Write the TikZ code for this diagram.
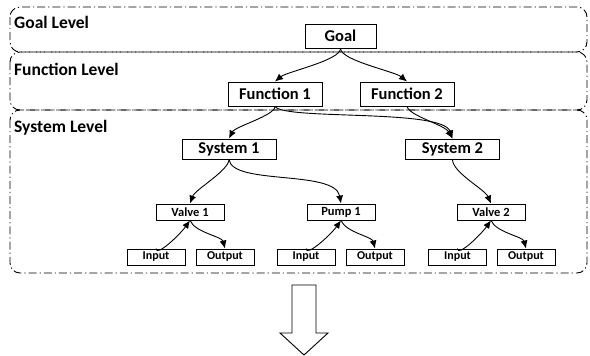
\documentclass[tikz,border=0pt]{standalone}
\usepackage{fontspec}
\setmainfont{Carlito}
\usetikzlibrary{arrows.meta}
\tikzset{
  levelbox/.style={draw, line width=0.9pt, rounded corners=10pt,
    dash pattern=on 8pt off 3pt on 1.2pt off 3pt},
  levellabel/.style={anchor=west, inner sep=0pt, font=\bfseries\fontsize{17.5}{20}\selectfont},
  bigbox/.style={draw, line width=0.9pt, inner sep=0pt, minimum height=24pt,
    font=\bfseries\fontsize{16.5}{19}\selectfont},
  sysbox/.style={draw, line width=0.9pt, inner sep=0pt, minimum width=94pt, minimum height=20pt,
    font=\bfseries\fontsize{16.5}{19}\selectfont},
  compbox/.style={draw, line width=0.9pt, inner sep=0pt, minimum width=68pt, minimum height=16pt,
    font=\bfseries\fontsize{12.5}{14}\selectfont},
  portbox/.style={draw, line width=0.9pt, inner sep=0pt, minimum width=58pt, minimum height=16pt,
    font=\bfseries\fontsize{12}{14}\selectfont},
  link/.style={line width=0.9pt, -{Latex[length=8pt,width=7pt]}},
  blockarrow/.style={draw, line width=0.9pt, fill=white, line join=miter}
}
\begin{document}
\begin{tikzpicture}[x=1pt,y=1pt]
\useasboundingbox (0,0) rectangle (590,-356);

% level frames
\draw[levelbox] (10,-7) rectangle (587,-52);
\draw[levelbox] (10,-52) rectangle (587,-110);
\draw[levelbox] (10,-110) rectangle (587,-273);

\node[levellabel] (lgoal) at (14,-22) {Goal Level};
\node[levellabel] (lfun) at (14,-69) {Function Level};
\node[levellabel] (lsys) at (14,-128) {System Level};

% goal and functions
\node[bigbox, minimum width=71pt] (goal) at (340.5,-36) {Goal};
\node[bigbox, minimum width=94pt] (f1) at (275,-94) {Function 1};
\node[bigbox, minimum width=94pt] (f2) at (407,-94) {Function 2};

% systems
\node[sysbox] (s1) at (229,-149) {System 1};
\node[sysbox] (s2) at (452.5,-149) {System 2};

% components
\node[compbox] (v1) at (190,-212) {Valve 1};
\node[compbox] (p1) at (341,-212) {Pump 1};
\node[compbox] (v2) at (491,-212) {Valve 2};

% ports
\node[portbox] (in1) at (156,-257) {Input};
\node[portbox] (out1) at (225,-257) {Output};
\node[portbox] (in2) at (306,-257) {Input};
\node[portbox] (out2) at (375,-257) {Output};
\node[portbox] (in3) at (457.5,-257) {Input};
\node[portbox] (out3) at (526,-257) {Output};

% connectors
\draw[link] (goal.south) .. controls +(0,-12) and +(12,10) .. (f1.north);
\draw[link] (goal.south) .. controls +(0,-12) and +(-12,10) .. (f2.north);

\draw[link] (f1.south) .. controls +(0,-9) and +(6,12) .. (s1.north);
\draw[link] (f1.south) .. controls +(10,-14) and +(-10,30) .. (s2.north);
\draw[link] (f2.south) .. controls +(3,-10) and +(-8,14) .. (s2.north);

\draw[link] (s1.south) .. controls +(0,-11) and +(5,14) .. (v1.north);
\draw[link] (s1.south) .. controls +(3,-26) and +(-6,34) .. (p1.north);
\draw[link] (s2.south) .. controls +(0,-13) and +(-6,14) .. (v2.north);

\draw[link] (in1.north) .. controls +(0,-9) and +(-10,-14) .. (v1.south);
\draw[link] (v1.south) .. controls +(5,-12) and +(-3,12) .. (out1.north);
\draw[link] (in2.north) .. controls +(0,-9) and +(-10,-14) .. (p1.south);
\draw[link] (p1.south) .. controls +(5,-12) and +(-3,12) .. (out2.north);
\draw[link] (in3.north) .. controls +(0,-9) and +(-10,-14) .. (v2.south);
\draw[link] (v2.south) .. controls +(5,-12) and +(-3,12) .. (out3.north);

% downward block arrow
\draw[blockarrow] (292,-285) -- (316,-285) -- (316,-333) -- (328,-333)
  -- (304,-355) -- (280,-333) -- (292,-333) -- cycle;
\end{tikzpicture}
\end{document}
